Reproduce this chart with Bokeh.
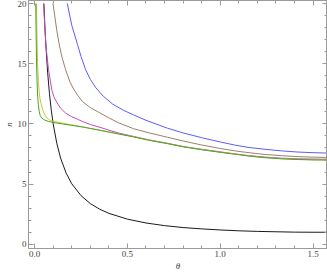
from bokeh.plotting import figure
from bokeh.models import LinearAxis, FixedTicker, Range1d, PrintfTickFormatter, CustomJSTickFormatter
from bokeh.embed import file_html
from bokeh.resources import INLINE

# ---- data ----
theta_black = [0.05, 0.055, 0.06, 0.07, 0.08, 0.09, 0.10, 0.12, 0.14, 0.17, 0.20, 0.25, 0.30, 0.35,
               0.40, 0.50, 0.60, 0.70, 0.80, 0.90, 1.00, 1.10, 1.20, 1.30, 1.40, 1.50, 1.571]
n_black = [20.0, 18.2, 16.7, 14.3, 12.5, 11.1, 10.0, 8.35, 7.16, 5.9, 5.03, 4.04, 3.38, 2.92,
           2.57, 2.09, 1.77, 1.55, 1.39, 1.28, 1.19, 1.12, 1.07, 1.04, 1.01, 1.0, 1.0]

theta_blue = [0.176, 0.20, 0.231, 0.25, 0.275, 0.30, 0.33, 0.37, 0.42, 0.48, 0.533, 0.60, 0.716,
              0.80, 0.899, 1.0, 1.082, 1.15, 1.236, 1.33, 1.42, 1.50, 1.571]
n_blue = [20.0, 18.2, 16.6, 15.6, 14.5, 13.7, 13.0, 12.3, 11.65, 11.12, 10.75, 10.3, 9.64,
          9.25, 8.86, 8.5, 8.23, 8.05, 7.9, 7.76, 7.66, 7.61, 7.58]

theta_brown = [0.099, 0.11, 0.12, 0.135, 0.15, 0.167, 0.19, 0.21, 0.231, 0.258, 0.30, 0.341, 0.40,
               0.451, 0.533, 0.62, 0.716, 0.80, 0.899, 1.0, 1.082, 1.16, 1.236, 1.33, 1.42, 1.50, 1.571]
n_brown = [20.0, 18.8, 17.7, 16.4, 15.4, 14.5, 13.5, 12.9, 12.4, 11.86, 11.35, 11.0, 10.5,
           10.1, 9.6, 9.24, 8.89, 8.58, 8.25, 7.96, 7.75, 7.6, 7.47, 7.36, 7.28, 7.24, 7.22]

theta_purple = [0.048, 0.055, 0.062, 0.075, 0.093, 0.105, 0.121, 0.14, 0.167, 0.20, 0.231, 0.258,
                0.30, 0.368, 0.396, 0.45, 0.533, 0.62, 0.716, 0.80, 0.899, 1.0, 1.082, 1.16,
                1.236, 1.33, 1.42, 1.50, 1.571]
n_purple = [20.0, 18.0, 16.3, 14.5, 12.8, 12.2, 11.75, 11.3, 10.9, 10.6, 10.39, 10.2,
            9.95, 9.64, 9.5, 9.25, 8.96, 8.66, 8.39, 8.12, 7.89, 7.68, 7.5, 7.36,
            7.25, 7.15, 7.1, 7.08, 7.07]

theta_yellow = [0.01, 0.013, 0.016, 0.02, 0.025, 0.03, 0.038, 0.045, 0.055, 0.066, 0.08, 0.095,
                0.112, 0.15, 0.20, 0.258, 0.30, 0.368, 0.45, 0.533, 0.62, 0.716, 0.80, 0.899,
                1.0, 1.082, 1.16, 1.236, 1.33, 1.42, 1.50, 1.571]
n_yellow = [20.0, 17.0, 15.0, 13.6, 12.6, 12.0, 11.5, 11.1, 10.75, 10.5, 10.33, 10.25,
            10.18, 10.06, 9.92, 9.76, 9.63, 9.43, 9.18, 8.93, 8.64, 8.37, 8.11, 7.87,
            7.65, 7.49, 7.33, 7.21, 7.11, 7.05, 7.02, 7.01]

theta_green = [0.006, 0.008, 0.01, 0.013, 0.016, 0.02, 0.025, 0.03, 0.038, 0.05, 0.075, 0.10,
               0.15, 0.20, 0.258, 0.30, 0.368, 0.45, 0.533, 0.62, 0.716, 0.80, 0.899, 1.0,
               1.082, 1.16, 1.236, 1.33, 1.42, 1.50, 1.571]
n_green = [20.0, 17.5, 15.5, 13.5, 12.4, 11.6, 11.0, 10.7, 10.5, 10.35, 10.2, 10.12,
           10.0, 9.88, 9.74, 9.62, 9.42, 9.17, 8.92, 8.63, 8.36, 8.1, 7.86, 7.64,
           7.48, 7.32, 7.2, 7.1, 7.04, 7.01, 7.0]

x_major = [0.0, 0.5, 1.0, 1.5]
x_minor = [0.1, 0.2, 0.3, 0.4, 0.6, 0.7, 0.8, 0.9, 1.1, 1.2, 1.3, 1.4]
y_major = [0, 5, 10, 15, 20]
y_minor = [1, 2, 3, 4, 6, 7, 8, 9, 11, 12, 13, 14, 16, 17, 18, 19]

FONT = "Liberation Serif"
FRAME = "#9a9a9a"

p = figure(width=327, height=273, output_backend="svg", toolbar_location=None,
           x_range=Range1d(-0.033, 1.578), y_range=Range1d(-0.35, 20.25),
           x_axis_label="θ", y_axis_label="n",
           min_border_left=0, min_border_right=0, min_border_top=0, min_border_bottom=0)
p.grid.visible = False
p.outline_line_color = FRAME
p.background_fill_color = "white"
p.border_fill_color = "white"


def style_axis(ax, ticks, minors, show_labels):
    ax.ticker = FixedTicker(ticks=ticks, minor_ticks=minors)
    ax.axis_line_color = FRAME
    ax.major_tick_line_color = FRAME
    ax.minor_tick_line_color = FRAME
    ax.major_tick_in = 5
    ax.major_tick_out = 0
    ax.minor_tick_in = 3
    ax.minor_tick_out = 0
    ax.major_label_text_font = FONT
    ax.major_label_text_color = "#444444"
    ax.major_label_text_font_size = "9px"
    if show_labels:
        ax.major_label_standoff = 2
    else:
        ax.formatter = CustomJSTickFormatter(code="return ''")
        ax.major_label_standoff = 0
    ax.axis_label_text_font = FONT
    ax.axis_label_text_font_size = "9px"
    ax.axis_label_text_font_style = "italic"
    ax.axis_label_text_color = "#444444"
    ax.axis_label_standoff = 1


style_axis(p.xaxis[0], x_major, x_minor, True)
p.xaxis[0].formatter = PrintfTickFormatter(format="%.1f")
style_axis(p.yaxis[0], y_major, y_minor, True)

top = LinearAxis()
style_axis(top, x_major, x_minor, False)
p.add_layout(top, "above")
right = LinearAxis()
style_axis(right, y_major, y_minor, False)
p.add_layout(right, "right")

p.line(theta_black, n_black, line_color="#1a1a1a", line_width=1)
p.line(theta_blue, n_blue, line_color="#5c5cff", line_width=1)
p.line(theta_brown, n_brown, line_color="#9c8068", line_width=1)
p.line(theta_purple, n_purple, line_color="#c04cc0", line_width=1)
p.line(theta_yellow, n_yellow, line_color="#c8c830", line_width=1)
p.line(theta_green, n_green, line_color="#4ca034", line_width=1)

open("out.html", "w").write(file_html(p, INLINE))
